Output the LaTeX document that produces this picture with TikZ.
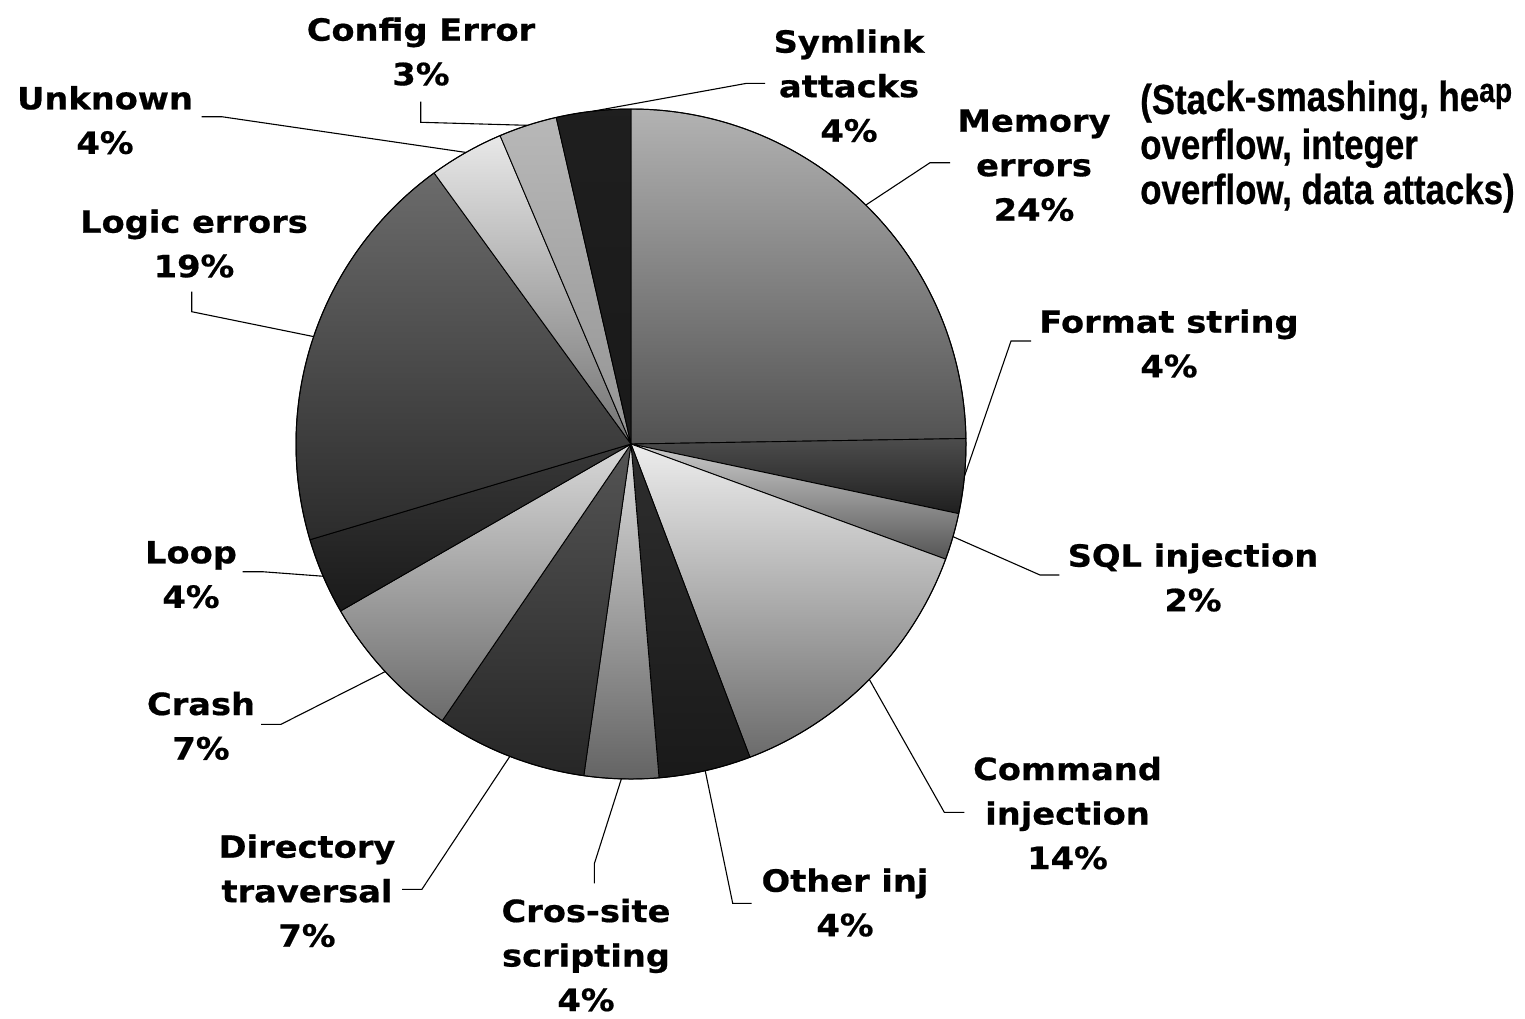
\documentclass[tikz,border=0pt]{standalone}
\usepackage{fontspec}
\setmainfont{DejaVu Sans}[FakeStretch=1.1, BoldFeatures={FakeBold=0.6}]
\newfontfamily\notefont{Liberation Sans}[FakeStretch=0.83, BoldFeatures={FakeBold=0.5}]
\usetikzlibrary{calc}

% slice shades (top / bottom of each vertical gradient)
\definecolor{memT}{gray}{0.70}\definecolor{memB}{gray}{0.32}
\definecolor{fmtT}{gray}{0.30}\definecolor{fmtB}{gray}{0.12}
\definecolor{sqlT}{gray}{0.80}\definecolor{sqlB}{gray}{0.33}
\definecolor{cmdT}{gray}{0.93}\definecolor{cmdB}{gray}{0.42}
\definecolor{othT}{gray}{0.18}\definecolor{othB}{gray}{0.10}
\definecolor{xssT}{gray}{0.86}\definecolor{xssB}{gray}{0.39}
\definecolor{dirT}{gray}{0.33}\definecolor{dirB}{gray}{0.15}
\definecolor{crsT}{gray}{0.85}\definecolor{crsB}{gray}{0.42}
\definecolor{lopT}{gray}{0.22}\definecolor{lopB}{gray}{0.10}
\definecolor{logT}{gray}{0.42}\definecolor{logB}{gray}{0.17}
\definecolor{unkT}{gray}{0.91}\definecolor{unkB}{gray}{0.45}
\definecolor{cfgT}{gray}{0.72}\definecolor{cfgB}{gray}{0.58}
\definecolor{symT}{gray}{0.12}\definecolor{symB}{gray}{0.10}

\newcommand\pielabel[1]{\begin{tabular}[t]{@{}c@{}}#1\end{tabular}}

\begin{document}
\begin{tikzpicture}[x=1pt,y=-1pt,
  lbl/.style={anchor=base, inner sep=0pt, font=\bfseries\fontsize{30.6}{44.5}\selectfont},
  note/.style={anchor=base west, inner sep=0pt, font=\notefont\bfseries\fontsize{42}{45}\selectfont},
  wedge/.style={draw=black, line width=0.9pt, line join=round},
  leader/.style={draw=black, line width=1.1pt}]
\useasboundingbox (0,0) rectangle (1525,1018);

\coordinate (c) at (631,444);
\def\R{335}

% wedges, clockwise from twelve o'clock (angles grow clockwise on the page)
\shadedraw[wedge, top color=memT, bottom color=memB] (c) -- ++(-90:\R) arc[start angle=-90, end angle=-0.94, radius=\R] -- cycle;
\shadedraw[wedge, top color=fmtT, bottom color=fmtB] (c) -- ++(-0.94:\R) arc[start angle=-0.94, end angle=12.0, radius=\R] -- cycle;
\shadedraw[wedge, top color=sqlT, bottom color=sqlB] (c) -- ++(12.0:\R) arc[start angle=12.0, end angle=20.1, radius=\R] -- cycle;
\shadedraw[wedge, top color=cmdT, bottom color=cmdB] (c) -- ++(20.1:\R) arc[start angle=20.1, end angle=69.2, radius=\R] -- cycle;
\shadedraw[wedge, top color=othT, bottom color=othB] (c) -- ++(69.2:\R) arc[start angle=69.2, end angle=85.2, radius=\R] -- cycle;
\shadedraw[wedge, top color=xssT, bottom color=xssB] (c) -- ++(85.2:\R) arc[start angle=85.2, end angle=98.1, radius=\R] -- cycle;
\shadedraw[wedge, top color=dirT, bottom color=dirB] (c) -- ++(98.1:\R) arc[start angle=98.1, end angle=124.3, radius=\R] -- cycle;
\shadedraw[wedge, top color=crsT, bottom color=crsB] (c) -- ++(124.3:\R) arc[start angle=124.3, end angle=150.1, radius=\R] -- cycle;
\shadedraw[wedge, top color=lopT, bottom color=lopB] (c) -- ++(150.1:\R) arc[start angle=150.1, end angle=163.4, radius=\R] -- cycle;
\shadedraw[wedge, top color=logT, bottom color=logB] (c) -- ++(163.4:\R) arc[start angle=163.4, end angle=234.0, radius=\R] -- cycle;
\shadedraw[wedge, top color=unkT, bottom color=unkB] (c) -- ++(234.0:\R) arc[start angle=234.0, end angle=247.0, radius=\R] -- cycle;
\shadedraw[wedge, top color=cfgT, bottom color=cfgB] (c) -- ++(247.0:\R) arc[start angle=247.0, end angle=257.1, radius=\R] -- cycle;
\shadedraw[wedge, top color=symT, bottom color=symB] (c) -- ++(257.1:\R) arc[start angle=257.1, end angle=270.0, radius=\R] -- cycle;
\draw[line width=1pt] (c) circle[radius=\R];

% labels
\node[lbl] (cfg)   at (421,40.7)   {\pielabel{Config Error\\3\%}};
\node[lbl] (sym)   at (849,52.7)   {\pielabel{Symlink\\attacks\\4\%}};
\node[lbl] (mem)   at (1034,131.7) {\pielabel{Memory\\errors\\24\%}};
\node[lbl] (unk)   at (105,109.3)  {\pielabel{Unknown\\4\%}};
\node[lbl] (logic) at (194,232.7)  {\pielabel{Logic errors\\19\%}};
\node[lbl] (fmt)   at (1169,332.7) {\pielabel{Format string\\4\%}};
\node[lbl] (sql)   at (1193,566.7) {\pielabel{SQL injection\\2\%}};
\node[lbl] (loop)  at (191,563.3)  {\pielabel{Loop\\4\%}};
\node[lbl] (crash) at (201,715)    {\pielabel{Crash\\7\%}};
\node[lbl] (cmd)   at (1067.5,780) {\pielabel{Command\\injection\\14\%}};
\node[lbl] (oth)   at (845,891.7)  {\pielabel{Other inj\\4\%}};
\node[lbl] (dir)   at (307,857.7)  {\pielabel{Directory\\traversal\\7\%}};
\node[lbl] (xss)   at (586,922)    {\pielabel{Cros-site\\scripting\\4\%}};

\node[note] (memnote) at (1140,114)
  {\begin{tabular}[t]{@{}l@{}}(Sta\raisebox{3pt}{ck-smashing, he}\raisebox{12pt}{\fontsize{34}{34}\selectfont ap}\\
   overflow, integer\\
   overflow, data attacks)\end{tabular}};

% leader line ends beside the labels
\coordinate (cfg-a) at (420.7,101.7);  \coordinate (cfg-b) at (420.7,122.3);
\coordinate (sym-a) at (765,83.3);     \coordinate (sym-b) at (746.7,83.3);
\coordinate (mem-a) at (950,162.7);    \coordinate (mem-b) at (930,162.7);
\coordinate (unk-a) at (201.7,116.7);  \coordinate (unk-b) at (221.7,116.7);
\coordinate (log-a) at (191.7,291.7);  \coordinate (log-b) at (191.7,311.7);
\coordinate (fmt-a) at (1031,341);     \coordinate (fmt-b) at (1011,341);
\coordinate (sql-a) at (1059.3,575);   \coordinate (sql-b) at (1040,575);
\coordinate (lop-a) at (242.7,571.7);  \coordinate (lop-b) at (262.3,571.7);
\coordinate (crs-a) at (261,724.3);    \coordinate (crs-b) at (281,724.3);
\coordinate (cmd-a) at (964.3,812.3);  \coordinate (cmd-b) at (944.3,812.3);
\coordinate (oth-a) at (751.7,903.3);  \coordinate (oth-b) at (732.7,903.3);
\coordinate (xss-a) at (594.4,883.3);  \coordinate (xss-b) at (594.4,863.5);
\coordinate (dir-a) at (402,889.3);    \coordinate (dir-b) at (421.9,889.3);

% leader line ends on the rim, at each wedge's middle
\coordinate (cfg-p) at ($(c)+(-107.95:\R)$);
\coordinate (sym-p) at ($(c)+(-96.45:\R)$);
\coordinate (mem-p) at ($(c)+(-45.5:\R)$);
\coordinate (unk-p) at ($(c)+(-119.5:\R)$);
\coordinate (log-p) at ($(c)+(-161.3:\R)$);
\coordinate (fmt-p) at ($(c)+(5.53:\R)$);
\coordinate (sql-p) at ($(c)+(16.05:\R)$);
\coordinate (lop-p) at ($(c)+(156.75:\R)$);
\coordinate (crs-p) at ($(c)+(137.2:\R)$);
\coordinate (cmd-p) at ($(c)+(44.65:\R)$);
\coordinate (oth-p) at ($(c)+(77.2:\R)$);
\coordinate (xss-p) at ($(c)+(91.65:\R)$);
\coordinate (dir-p) at ($(c)+(111.2:\R)$);

\foreach \k in {cfg,sym,mem,unk,log,fmt,sql,lop,crs,cmd,oth,xss,dir}
  \draw[leader] (\k-a) -- (\k-b) -- (\k-p);
\end{tikzpicture}
\end{document}
